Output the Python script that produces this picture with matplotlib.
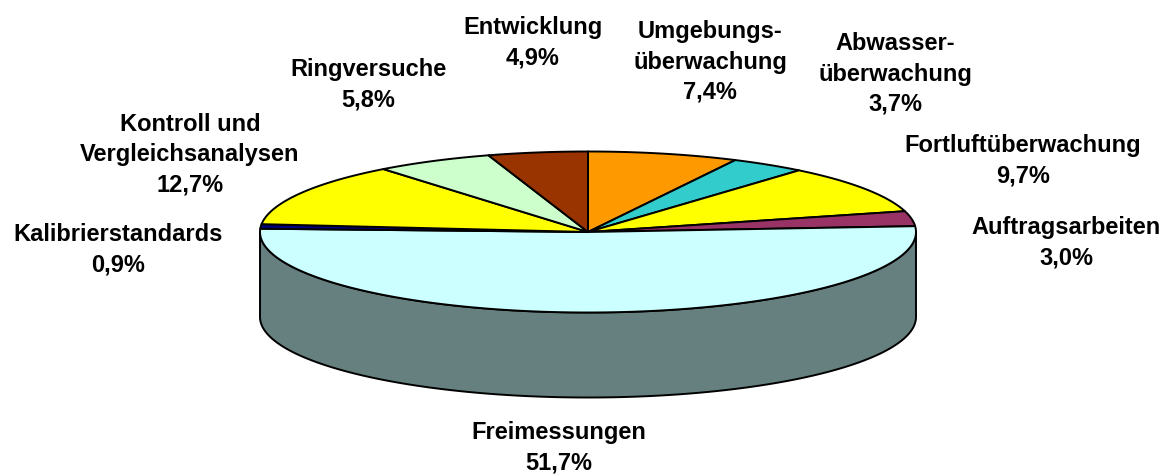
import numpy as np
import matplotlib
matplotlib.use("Agg")
import matplotlib.pyplot as plt
from matplotlib.patches import Polygon
from matplotlib.colors import to_rgb

# slices, clockwise from 12 o'clock
labels = ["Umgebungs-\nüberwachung", "Abwasser-\nüberwachung", "Fortluftüberwachung",
          "Auftragsarbeiten", "Freimessungen", "Kalibrierstandards",
          "Kontroll und\nVergleichsanalysen", "Ringversuche", "Entwicklung"]
values = [7.4, 3.7, 9.7, 3.0, 51.7, 0.9, 12.7, 5.8, 4.9]
colors = ["#FF9900", "#33CCCC", "#FFFF00", "#993366", "#CCFFFF",
          "#000080", "#FFFF00", "#CCFFCC", "#993300"]

# layout (pixel coords of the figure)
W, H = 1163, 476
cx, cy = 588, 232
rx, ry = 328, 80.5
depth = 85
label_xy = [(710, 62), (895, 74), (1023, 161), (1066, 243), (559, 448),
            (118, 250), (190, 155), (368, 85), (533, 43)]


def rim(t, drop=0.0):
    t = np.radians(t)
    return np.column_stack([cx + rx * np.sin(t), cy - ry * np.cos(t) + drop])


fig = plt.figure(figsize=(W / 100, H / 100), dpi=100)
ax = fig.add_axes([0, 0, 1, 1])
ax.set_xlim(0, W)
ax.set_ylim(H, 0)
ax.axis("off")

total = sum(values)
edges = np.concatenate([[0], np.cumsum(values) / total * 360])
lw = 1.4

# side walls (front half only: 90..270 deg)
for i, c in enumerate(colors):
    a, b = max(edges[i], 90), min(edges[i + 1], 270)
    if b <= a:
        continue
    t = np.linspace(a, b, 200)
    pts = np.vstack([rim(t), rim(t[::-1], depth)])
    side = tuple(0.5 * v for v in to_rgb(c))
    ax.add_patch(Polygon(pts, closed=True, facecolor=side, edgecolor="black",
                         linewidth=lw, joinstyle="round"))

# top face
for i, c in enumerate(colors):
    t = np.linspace(edges[i], edges[i + 1], 200)
    pts = np.vstack([[cx, cy], rim(t)])
    ax.add_patch(Polygon(pts, closed=True, facecolor=c, edgecolor="black",
                         linewidth=lw, joinstyle="round"))

# labels
for lab, v, (x, y) in zip(labels, values, label_xy):
    txt = lab + "\n" + f"{v:.1f}%".replace(".", ",")
    ax.text(x, y, txt, ha="center", va="center", multialignment="center",
            fontsize=17, fontweight="bold", family="Liberation Sans",
            linespacing=1.4, color="black")

fig.savefig("out.png", dpi=100, facecolor="white")
